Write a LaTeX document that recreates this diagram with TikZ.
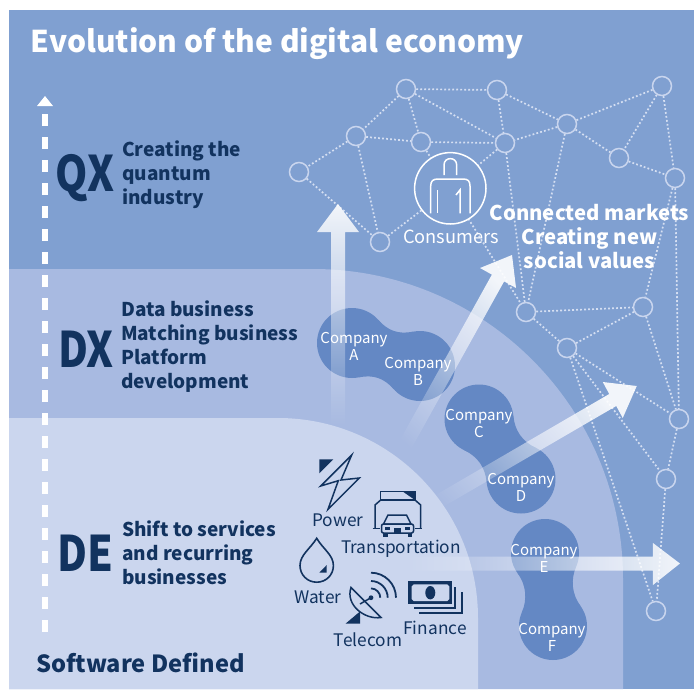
\documentclass[tikz,border=0pt]{standalone}
\usepackage{fontspec}
\setmainfont{Noto Sans CJK JP}
\usetikzlibrary{fadings}
\definecolor{panelc}{HTML}{80A0D1}
\definecolor{midc}{HTML}{A8BAE1}
\definecolor{innerc}{HTML}{CBD6EE}
\definecolor{blobc}{HTML}{6488C4}
\definecolor{navy}{HTML}{12335F}
\definecolor{netc}{HTML}{C9D5EE}
\definecolor{dotc}{HTML}{D5DFF2}
\tikzfading[name=arrfade, bottom color=transparent!100, middle color=transparent!35, top color=transparent!10]
\tikzset{
  netnode/.style={circle,draw=netc,line width=1.5pt,minimum size=19pt,inner sep=0pt},
  netedge/.style={draw=dotc,line width=1.7pt,dash pattern=on 1.8pt off 2.2pt},
  bigarrow/.style={fill=white,path fading=arrfade},
  blobtext/.style={text=white,font=\fontsize{15}{17}\selectfont,align=center,inner sep=0pt},
  levtext/.style={text=navy,font=\fontsize{19}{24}\selectfont\bfseries,align=left,anchor=west,inner sep=0pt},
  levmark/.style={text=navy,font=\fontsize{49}{49}\selectfont\bfseries,inner sep=0pt,xscale=.84},
  icolabel/.style={text=navy,font=\fontsize{17.3}{17}\selectfont,inner sep=0pt},
  whitebold/.style={text=white,font=\fontsize{20.3}{24}\selectfont\bfseries,align=center,inner sep=0pt},
  ico/.style={draw=navy,line width=1.5pt,line join=miter},
  icofill/.style={fill=navy},
}
\newcommand{\myblob}[5]{%
  \fill[blobc] (#1,#2) circle[radius=#5pt];
  \fill[blobc] (#3,#4) circle[radius=#5pt];
  \pgfmathsetmacro{\blobd}{veclen(#3-#1,#4-#2)}
  \pgfmathsetmacro{\bloba}{atan2(-(#4-#2),#3-#1)}
  \pgfmathsetmacro{\blobpx}{#5*0.5}
  \pgfmathsetmacro{\blobpy}{#5*0.866}
  \pgfmathsetmacro{\blobcx}{\blobpx+#5*0.37}
  \pgfmathsetmacro{\blobcy}{\blobpy-#5*0.21}
  \begin{scope}[shift={(#1,#2)},rotate=\bloba]
    \fill[blobc] (\blobpx,\blobpy)
      .. controls (\blobcx,\blobcy) and (\blobd-\blobcx,\blobcy) .. (\blobd-\blobpx,\blobpy)
      -- (\blobd-\blobpx,-\blobpy)
      .. controls (\blobd-\blobcx,-\blobcy) and (\blobcx,-\blobcy) .. (\blobpx,-\blobpy) -- cycle;
  \end{scope}
}
\begin{document}
\begin{tikzpicture}[x=1pt,y=-1pt]
\useasboundingbox (0,0) rectangle (694,689);
\fill[white] (0,0) rectangle (694,689);
% regions
\fill[panelc] (9,10) rectangle (694,689);
\fill[midc] (9,269) -- (313,269) .. controls (484.2,269) and (623,407.8) .. (623,579) -- (623,689) -- (9,689) -- cycle;
\fill[innerc] (9,418) -- (278,418) .. controls (388.5,418) and (478,507.5) .. (478,618) -- (478,689) -- (9,689) -- cycle;
% network
\foreach \nm/\xx/\yy in {n1/406/89,n2/497/90,n3/662/86,n4/567/124,n5/356/136,n6/421/142,n7/505/143,n8/619/158,n9/299/172,n10/675/178,n11/380/242,n12/526/312,n13/643/307,n14/567/348,n15/679/419,n16/666/479,n17/656/611}
  \node[netnode] (\nm) at (\xx,\yy) {};
\node[circle,minimum size=71.4pt,inner sep=0pt] (cons) at (450.3,188.3) {};
\foreach \aa/\bb in {n1/n2,n1/n7,n1/n5,n1/n6,n2/n7,n2/n4,n4/n7,n4/n3,n4/n8,n4/n12,n5/n6,n5/n9,n5/n11,n6/n7,n3/n8,n3/n10,n8/n10,n7/cons,n7/n12,n9/n11,n11/cons,n6/n12,n10/n13,n10/n15,n12/n13,n12/n14,n13/n14,n13/n15,n14/n15,n14/n16,n14/n17,n15/n16,n16/n17}
  \draw[netedge] (\aa) -- (\bb);
% consumers disc
\node[circle,draw=white,fill=panelc,line width=1.5pt,minimum size=71.4pt,inner sep=0pt] (consdisc) at (450.3,188.3) {};
\begin{scope}[draw=white,line width=1.5pt]
  \draw (444,175) -- (444,165) .. controls (444,156.5) and (456.7,156.5) .. (456.7,165) -- (456.7,175);
  \draw (430.7,213.3) -- (430.7,186) .. controls (430.7,181) and (433,179) .. (438,179) -- (463,179) .. controls (468,179) and (470,181) .. (470,186) -- (470,213.3);
  \draw (437.3,190) -- (437.3,213.3);
  \draw (456,195) -- (460,190) -- (460,213.3);
\end{scope}
% blobs
\myblob{352}{343}{420}{366}{35}
\myblob{479}{419}{521}{479}{34.5}
\myblob{545}{553}{553}{626}{34}
% arrows
\fill[bigarrow] (331,425) -- (331,232) -- (317,232) -- (338,204) -- (359,232) -- (345,232) -- (345,425) -- cycle;
\fill[bigarrow,fading angle=-29] (386.4,464.6) -- (491.9,274.6) -- (480,268) -- (512,255) -- (516,288) -- (504.1,281.4) -- (398.6,471.4) -- cycle;
\fill[bigarrow,fading angle=-60] (408.5,511) -- (609.5,394) -- (603,382) -- (637,386) -- (623,418) -- (616.5,406) -- (415.5,523) -- cycle;
\fill[bigarrow,fading angle=-90] (405,556.7) -- (653,556.7) -- (653,543) -- (680,563.5) -- (653,585) -- (653,570.7) -- (405,570.7) -- cycle;
% blob labels
\node[blobtext] (ca) at (354,346) {Company\\A};
\node[blobtext] (cb) at (418,371) {Company\\B};
\node[blobtext] (cc) at (479,423) {Company\\C};
\node[blobtext] (cd) at (521,487) {Company\\D};
\node[blobtext] (ce) at (544,558) {Company\\E};
\node[blobtext] (cf) at (552,637) {Company\\F};
% title and levels
\node[text=white,font=\fontsize{30}{30}\selectfont\bfseries,anchor=west,inner sep=0pt] (title) at (30.5,44) {Evolution of the digital economy};
\node[levmark] (qx) at (85,178) {QX};
\node[levmark] (dx) at (86,349) {DX};
\node[levmark] (de) at (85,553) {DE};
\node[levtext] (tq) at (122,175) {Creating the\\quantum\\industry};
\node[levtext] (td) at (121,347) {Data business\\Matching business\\Platform\\development};
\node[levtext] (te) at (122,552.5) {Shift to services\\and recurring\\businesses};
\node[text=navy,font=\fontsize{23.6}{25}\selectfont\bfseries,anchor=west,inner sep=0pt] (sd) at (36,663) {Software Defined};
\node[whitebold] (mk) at (589.5,237) {Connected markets\\Creating new\\social values};
\node[text=white,font=\fontsize{18.2}{19}\selectfont,inner sep=0pt] (consl) at (451,237) {Consumers};
% dashed axis
\coordinate (axb) at (45,632);
\coordinate (axt) at (45,106);
\draw[white,line width=6pt,dash pattern=on 12pt off 11pt] (axb) -- (axt);
\fill[white] (37,106) -- (45,96) -- (53,106) -- cycle;
% icon labels
\node[icolabel] (lp) at (338,520) {Power};
\node[icolabel] (lt) at (401,549) {Transportation};
\node[icolabel] (lw) at (318,597) {Water};
\node[icolabel] (lc) at (368,640) {Telecom};
\node[icolabel] (lf) at (435,628) {Finance};
% power
\draw[ico] (351.7,455) -- (320.7,486) -- (338.3,480.7) -- (328,509.3) -- (359.3,478) -- (341,480) -- cycle;
\fill[icofill] (319.3,459.3) -- (333.3,459.3) -- (319.3,473.3) -- cycle;
% truck
\draw[ico] (380.7,491.7) -- (415,491.7) -- (415,500) -- (380.7,500) -- cycle;
\fill[icofill] (403,491.7) -- (415,491.7) -- (415,500) -- cycle;
\draw[ico] (380.7,500) -- (375,505) -- (375,528.3);
\draw[ico] (415,500) -- (420.7,505) -- (420.7,528.3);
\draw[ico] (372.7,528.3) -- (380,528.3);
\draw[ico] (415,528.3) -- (422.3,528.3);
\draw[ico,fill=innerc] (388,515) -- (406.5,515) -- (411,524) -- (383.5,524) -- cycle;
\draw[ico,fill=innerc,rounded corners=2pt] (381.5,524) rectangle (413.5,533);
\fill[icofill] (383,533) rectangle (387.5,537);
\fill[icofill] (407.5,533) rectangle (412,537);
\fill[icofill] (385,527) rectangle (390,530);
\fill[icofill] (405,527) rectangle (410,530);
\fill[icofill] (394,528) rectangle (401,533);
% water
\draw[navy,line width=1.6pt] (316.7,538.3) .. controls (310,549) and (300,555) .. (300,565.5) .. controls (300,575) and (307.5,582.2) .. (316.7,582.2) .. controls (326,582.2) and (333.4,575) .. (333.4,565.5) .. controls (333.4,555) and (323,549) .. (316.7,538.3) -- cycle;
\fill[icofill] (326.7,565) -- (326.7,572.7) -- (319.3,572.7) -- cycle;
% telecom
\draw[ico] (351,587.5) -- (381,617.5) .. controls (365,620) and (345,605) .. (351,587.5) -- cycle;
\draw[ico] (360,604) -- (371,597.7);
\fill[icofill] (371,597.7) circle[radius=2.4pt];
\fill[icofill] (345.7,623.5) -- (360,623.5) -- (360,611.5) -- cycle;
\draw[navy,line width=1.8pt] (371,588.4) .. controls (376.1,588.4) and (380.3,592.6) .. (380.3,597.7);
\draw[navy,line width=1.8pt] (371,581) .. controls (380.2,581) and (387.7,588.5) .. (387.7,597.7);
\draw[navy,line width=1.8pt] (371,572.7) .. controls (384.8,572.7) and (396,583.9) .. (396,597.7);
% finance
\fill[icofill] (408.3,581) rectangle (452.3,604.3);
\fill[innerc] (413.7,584.3) -- (447.3,584.3) -- (449.3,586.3) -- (449.3,599) -- (447.3,601) -- (413.7,601) -- (411.7,599) -- (411.7,586.3) -- cycle;
\fill[icofill] (430.3,592.7) ellipse[x radius=5pt,y radius=6.7pt];
\draw[navy,line width=2pt] (414,608.3) -- (455,608.3) -- (455,586.7);
\draw[navy,line width=2pt] (419,613.3) -- (461.7,613.3) -- (461.7,591.7);
\end{tikzpicture}
\end{document}
